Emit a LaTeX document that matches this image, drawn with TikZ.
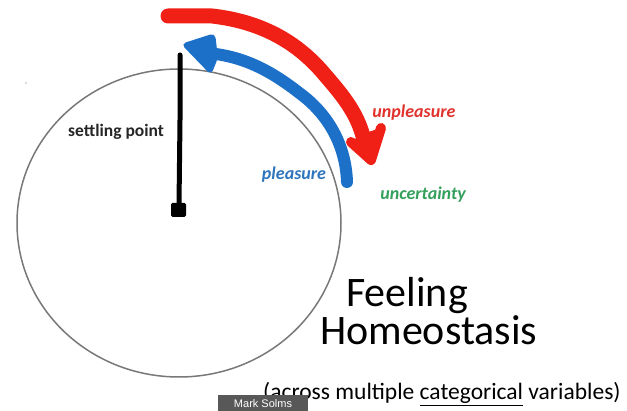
\documentclass[tikz,border=0pt]{standalone}
\usepackage{fontspec}
\setmainfont{Carlito}
\newfontfamily\arialfont{Liberation Sans}
\definecolor{penred}{RGB}{240,32,22}
\definecolor{penblue}{RGB}{28,112,200}
\definecolor{txtred}{RGB}{226,50,44}
\definecolor{txtblue}{RGB}{46,117,190}
\definecolor{txtgreen}{RGB}{52,160,92}
\definecolor{circgray}{RGB}{120,120,120}
\definecolor{badgegray}{RGB}{88,88,88}
\tikzset{
  lbl/.style={inner sep=0pt, font=\fontsize{18}{20}\selectfont\bfseries\itshape},
  bigtxt/.style={inner sep=0pt, anchor=base west, font=\fontsize{42}{44}\selectfont},
  pen/.style={line cap=round, line join=round},
}
\begin{document}
\begin{tikzpicture}[x=1pt,y=-1pt]
\useasboundingbox (0,0) rectangle (627,411);
\fill[white] (0,0) rectangle (627,411);
% circle
\draw[circgray, line width=1.5pt] (179,223) ellipse [x radius=162, y radius=154];
\fill[black!60] (26,83) circle (0.7);
% black pole
\draw[pen, line width=5pt] (180,55) -- (180,120) -- (179,205);
\fill[rounded corners=1.5pt] (171,203) rectangle (186,217);
% blue arrow
\draw[penblue, pen, line width=12pt] (347,182) .. controls (346,150) and (332,118) .. (302,95)
  .. controls (280,78) and (250,56) .. (206,53);
\fill[penblue, rounded corners=5pt] (181,44) -- (215,33) -- (218,58) -- (211,75) -- cycle;
% red arrow
\draw[penred, pen, line width=15pt] (168,16) -- (212,16) .. controls (265,22) and (300,45) .. (325,75)
  .. controls (345,98) and (358,115) .. (364,140);
\draw[penred, pen, line width=10pt] (351,142) -- (371,160) -- (381,128);
\fill[penred] (351,142) -- (371,160) -- (381,128) -- (362,134) -- cycle;
% labels
\node[inner sep=0pt, font=\fontsize{17.5}{19}\selectfont\bfseries, text=black!85] (settle) at (116,132) {settling point};
\node[lbl, text=txtblue] (pleas) at (294,175) {pleasure};
\node[lbl, text=txtred] (unpleas) at (414,113) {unpleasure};
\node[lbl, text=txtgreen] (uncert) at (423,195) {uncertainty};
\node[bigtxt] (feel) at (346,307) {Feeling};
\node[bigtxt] (homeo) at (320,345) {Homeostasis};
\node[inner sep=0pt, anchor=base west, font=\fontsize{23.5}{25}\selectfont] (across) at (263,400) {(across multiple \underline{categorical} variables)};
% badge
\fill[badgegray] (218,395) rectangle (308,411);
\node[inner sep=0pt, text=white, font=\arialfont\fontsize{11}{12}\selectfont] (badge) at (263,404) {Mark Solms};
\end{tikzpicture}
\end{document}
